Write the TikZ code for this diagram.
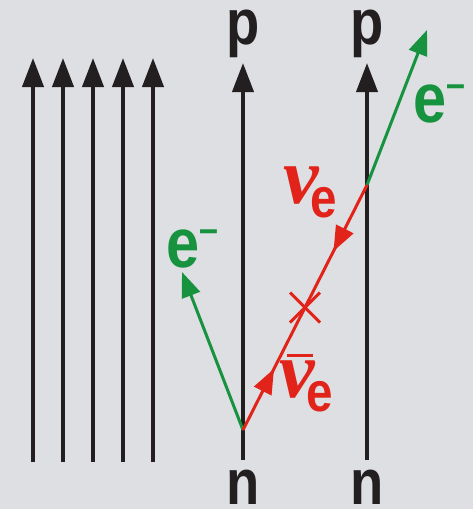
\documentclass[tikz,border=0pt]{standalone}
\usepackage{fontspec}
\usetikzlibrary{arrows.meta,positioning,calc,decorations.markings}
\newfontfamily\labelfont[FakeStretch=0.85]{Liberation Sans}
\newfontfamily\greekfont{Liberation Serif}
\definecolor{bggray}{RGB}{221,223,226}
\definecolor{nblack}{RGB}{35,31,32}
\definecolor{ered}{RGB}{226,35,26}
\definecolor{egreen}{RGB}{23,147,63}
\newcommand{\bigfont}{\labelfont\bfseries\fontsize{64}{64}\selectfont}
\newcommand{\efont}{\labelfont\bfseries\fontsize{70}{70}\selectfont}
\newcommand{\subfont}{\labelfont\bfseries\fontsize{56}{56}\selectfont}
\newcommand{\nufont}{\greekfont\bfseries\itshape\fontsize{80}{80}\selectfont}
\newcommand{\eminus}{{\efont e}\raisebox{25pt}{\fontsize{40}{40}\selectfont\textendash}}
\newcommand{\nusub}{\kern-8pt\lower14pt\hbox{\subfont e}}

\begin{document}
\begin{tikzpicture}[x=1pt, y=-1pt,
	nucleon/.style={nblack, line width=4pt, -{Triangle[width=21pt,length=29pt]}},
	electron/.style={egreen, line width=3pt, -{Triangle[width=19pt,length=25pt]}},
	neutrino/.style={ered, line width=3pt},
	lbl/.style={inner sep=0pt, font=\bigfont}]
	% Background:
	\useasboundingbox (0,0) rectangle (473,509);
	\fill[bggray] (0,0) rectangle (473,509);
	% Free nucleons:
	\foreach \i/\x in {1/33, 2/63, 3/93, 4/123, 5/153} {
		\coordinate (f\i) at (\x,462);
		\coordinate (g\i) at (\x,58);
		\draw[nucleon] (f\i) -- (g\i);
	}
	% Nucleons n -> p:
	\coordinate (n1) at (243,460);
	\coordinate (p1) at (243,63);
	\coordinate (n2) at (367,460);
	\coordinate (p2) at (367,63);
	\draw[nucleon] (n1) -- (p1);
	\draw[nucleon] (n2) -- (p2);
	\node[lbl, nblack, below=10pt of n1] (nlabel1) {n};
	\node[lbl, nblack, below=10pt of n2] (nlabel2) {n};
	\node[lbl, nblack, above=5pt of p1] (plabel1) {p};
	\node[lbl, nblack, above=5pt of p2] (plabel2) {p};
	% Vertices and electrons:
	\coordinate (v) at (243,430);
	\coordinate (c) at (367,185);
	\coordinate (e1) at (182,272);
	\coordinate (e2) at (427,30);
	\draw[electron] (v) -- (e1);
	\draw[electron] (c) -- (e2);
	% Neutrino line with the cross:
	\draw[neutrino, postaction={decorate}, decoration={markings,
		mark=at position 0.25 with {\arrow{Triangle[width=19pt,length=25pt]}},
		mark=at position 0.73 with {\arrowreversed{Triangle[width=19pt,length=25pt]}}}]
		(v) -- (c);
	\coordinate (x) at ($(v)!0.5!(c)$);
	\draw[neutrino] ([shift={(-15,-15)}]x) -- ([shift={(15,15)}]x);
	\draw[neutrino] ([shift={(-15,15)}]x) -- ([shift={(15,-15)}]x);
	% Labels:
	\node[lbl, egreen, anchor=base west] (elabel1) at (166,267) {\eminus};
	\node[lbl, egreen, anchor=base west] (elabel2) at (413,122) {\eminus};
	\node[lbl, ered, anchor=base west] (nulabel) at (283,203) {{\nufont ν}\nusub};
	\node[lbl, ered, anchor=base west] (nubarlabel) at (279,397)
		{\makebox[0pt][l]{\kern8pt\rule[40pt]{26pt}{3.5pt}}{\nufont ν}\nusub};
\end{tikzpicture}
\end{document}
